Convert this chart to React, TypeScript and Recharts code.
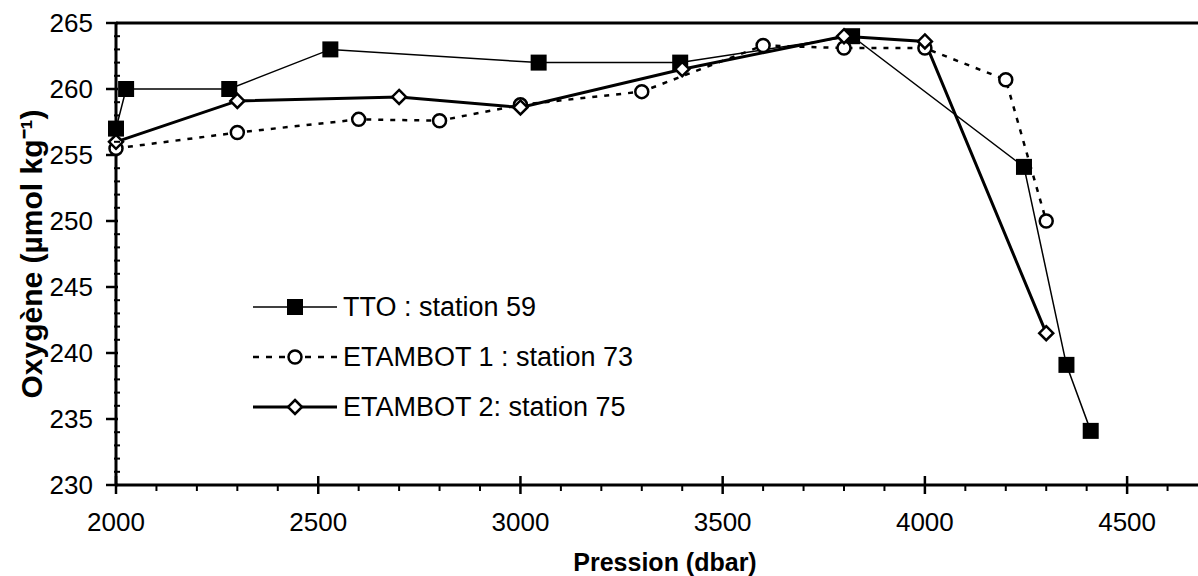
import React from "react";
import {
  LineChart,
  Line,
  XAxis,
  YAxis,
  ReferenceLine,
  Legend,
} from "recharts";

// TTO : station 59
const ttoPression = [2000, 2025, 2280, 2530, 3045, 3395, 3820, 4245, 4350, 4410];
const ttoOxygene = [257, 260, 260, 263, 262, 262, 264, 254.1, 239.1, 234.1];

// ETAMBOT 1 : station 73
const eta1Pression = [2000, 2300, 2600, 2800, 3000, 3300, 3600, 3800, 4000, 4200, 4300];
const eta1Oxygene = [255.5, 256.7, 257.7, 257.6, 258.8, 259.8, 263.3, 263.1, 263.1, 260.7, 250];

// ETAMBOT 2: station 75
const eta2Pression = [2000, 2300, 2700, 3000, 3400, 3800, 4000, 4300];
const eta2Oxygene = [256, 259.1, 259.4, 258.6, 261.5, 264, 263.6, 241.5];

const xMajorTicks = [2000, 2500, 3000, 3500, 4000, 4500];
const yMajorTicks = [230, 235, 240, 245, 250, 255, 260, 265];

const xMinorTicks: number[] = [];
for (let v = 2000; v <= 4700; v += 100) xMinorTicks.push(v);
const yMinorTicks: number[] = [];
for (let v = 230; v <= 265; v += 1) yMinorTicks.push(v);

const toPoints = (xs: number[], ys: number[]) => xs.map((x, i) => ({ x, y: ys[i] }));

const ttoData = toPoints(ttoPression, ttoOxygene);
const eta1Data = toPoints(eta1Pression, eta1Oxygene);
const eta2Data = toPoints(eta2Pression, eta2Oxygene);

const FONT = "'Liberation Sans', Arial, sans-serif";

const SquareDot = (props: any) => {
  const { cx, cy, index } = props;
  if (cx == null || cy == null) return null;
  return <rect key={`sq-${index}`} x={cx - 8} y={cy - 8} width={16} height={16} fill="#000" />;
};

const CircleDot = (props: any) => {
  const { cx, cy, index } = props;
  if (cx == null || cy == null) return null;
  return (
    <circle key={`ci-${index}`} cx={cx} cy={cy} r={6.5} fill="#fff" stroke="#000" strokeWidth={2.5} />
  );
};

const DiamondDot = (props: any) => {
  const { cx, cy, index } = props;
  if (cx == null || cy == null) return null;
  const s = 7;
  return (
    <path
      key={`di-${index}`}
      d={`M${cx},${cy - s}L${cx + s},${cy}L${cx},${cy + s}L${cx - s},${cy}Z`}
      fill="#fff"
      stroke="#000"
      strokeWidth={2.5}
    />
  );
};

const XTick = (props: any) => {
  const { x, y, payload } = props;
  const major = xMajorTicks.includes(payload.value);
  return (
    <g>
      {major ? (
        <line x1={x} x2={x} y1={y - 9} y2={y + 9} stroke="#000" strokeWidth={2.5} />
      ) : (
        <line x1={x} x2={x} y1={y} y2={y + 6} stroke="#000" strokeWidth={2} />
      )}
      {major && (
        <text x={x} y={y + 46} textAnchor="middle" fontSize={26} fontFamily={FONT} fill="#000">
          {payload.value}
        </text>
      )}
    </g>
  );
};

const YTick = (props: any) => {
  const { x, y, payload } = props;
  const major = yMajorTicks.includes(payload.value);
  return (
    <g>
      {major ? (
        <line x1={x - 10} x2={x + 2} y1={y} y2={y} stroke="#000" strokeWidth={2.5} />
      ) : (
        <line x1={x - 2} x2={x + 4} y1={y} y2={y} stroke="#000" strokeWidth={2} />
      )}
      {major && (
        <text x={x - 23} y={y + 9} textAnchor="end" fontSize={26} fontFamily={FONT} fill="#000">
          {payload.value}
        </text>
      )}
    </g>
  );
};

const legendRows = [
  { name: "TTO : station 59", dash: undefined, width: 1.5, marker: "square" },
  { name: "ETAMBOT 1 : station 73", dash: "6 7", width: 2.5, marker: "circle" },
  { name: "ETAMBOT 2: station 75", dash: undefined, width: 3, marker: "diamond" },
];

const LegendContent = () => (
  <div style={{ fontFamily: FONT, fontSize: 27, color: "#000" }}>
    {legendRows.map((r) => (
      <div key={r.name} style={{ display: "flex", alignItems: "center", height: 50 }}>
        <svg width={84} height={50} style={{ display: "block" }}>
          <line x1={0} x2={84} y1={25} y2={25} stroke="#000" strokeWidth={r.width} strokeDasharray={r.dash} />
          {r.marker === "square" && <rect x={34} y={17} width={16} height={16} fill="#000" />}
          {r.marker === "circle" && (
            <circle cx={42} cy={25} r={6.5} fill="#fff" stroke="#000" strokeWidth={2.5} />
          )}
          {r.marker === "diamond" && (
            <path d="M42,18L49,25L42,32L35,25Z" fill="#fff" stroke="#000" strokeWidth={2.5} />
          )}
        </svg>
        <span style={{ marginLeft: 6, whiteSpace: "nowrap" }}>{r.name}</span>
      </div>
    ))}
  </div>
);

const App = () => {
  return (
    <div
      style={{
        position: "absolute",
        left: 0,
        top: 0,
        width: 1198,
        height: 576,
        overflow: "hidden",
        background: "#fff",
      }}
    >
      <LineChart
        width={1208}
        height={576}
        margin={{ top: 23, right: 0, left: 0, bottom: 0 }}
        style={{ background: "#fff" }}
      >
        <XAxis
          type="number"
          dataKey="x"
          domain={[2000, 4700]}
          ticks={xMinorTicks}
          interval={0}
          height={91}
          tickSize={0}
          tickMargin={0}
          tickLine={false}
          tick={<XTick />}
          axisLine={{ stroke: "#000", strokeWidth: 3 }}
          label={{
            value: "Pression (dbar)",
            position: "insideBottom",
            offset: 5,
            dx: 3,
            style: { fontFamily: FONT, fontSize: 25, fontWeight: "bold", fill: "#000" },
          }}
        />
        <YAxis
          type="number"
          dataKey="y"
          domain={[230, 265]}
          ticks={yMinorTicks}
          interval={0}
          width={116}
          tickSize={0}
          tickMargin={0}
          tickLine={false}
          tick={<YTick />}
          axisLine={{ stroke: "#000", strokeWidth: 3 }}
          label={{
            value: "Oxygène (µmol kg⁻¹)",
            angle: -90,
            position: "insideLeft",
            offset: 31,
            style: { fontFamily: FONT, fontSize: 30, fontWeight: "bold", fill: "#000", textAnchor: "middle" },
          }}
        />
        <ReferenceLine y={265} stroke="#000" strokeWidth={3} ifOverflow="visible" />
        <Legend
          layout="vertical"
          align="center"
          verticalAlign="middle"
          content={<LegendContent />}
          wrapperStyle={{ left: 253, top: 282, width: "auto", height: "auto" }}
        />
        <Line
          data={ttoData}
          dataKey="y"
          type="linear"
          stroke="#000"
          strokeWidth={1.5}
          dot={<SquareDot />}
          activeDot={false}
          isAnimationActive={false}
        />
        <Line
          data={eta1Data}
          dataKey="y"
          type="linear"
          stroke="#000"
          strokeWidth={2.5}
          strokeDasharray="5 7"
          dot={<CircleDot />}
          activeDot={false}
          isAnimationActive={false}
        />
        <Line
          data={eta2Data}
          dataKey="y"
          type="linear"
          stroke="#000"
          strokeWidth={3}
          dot={<DiamondDot />}
          activeDot={false}
          isAnimationActive={false}
        />
      </LineChart>
    </div>
  );
};

export default App;
